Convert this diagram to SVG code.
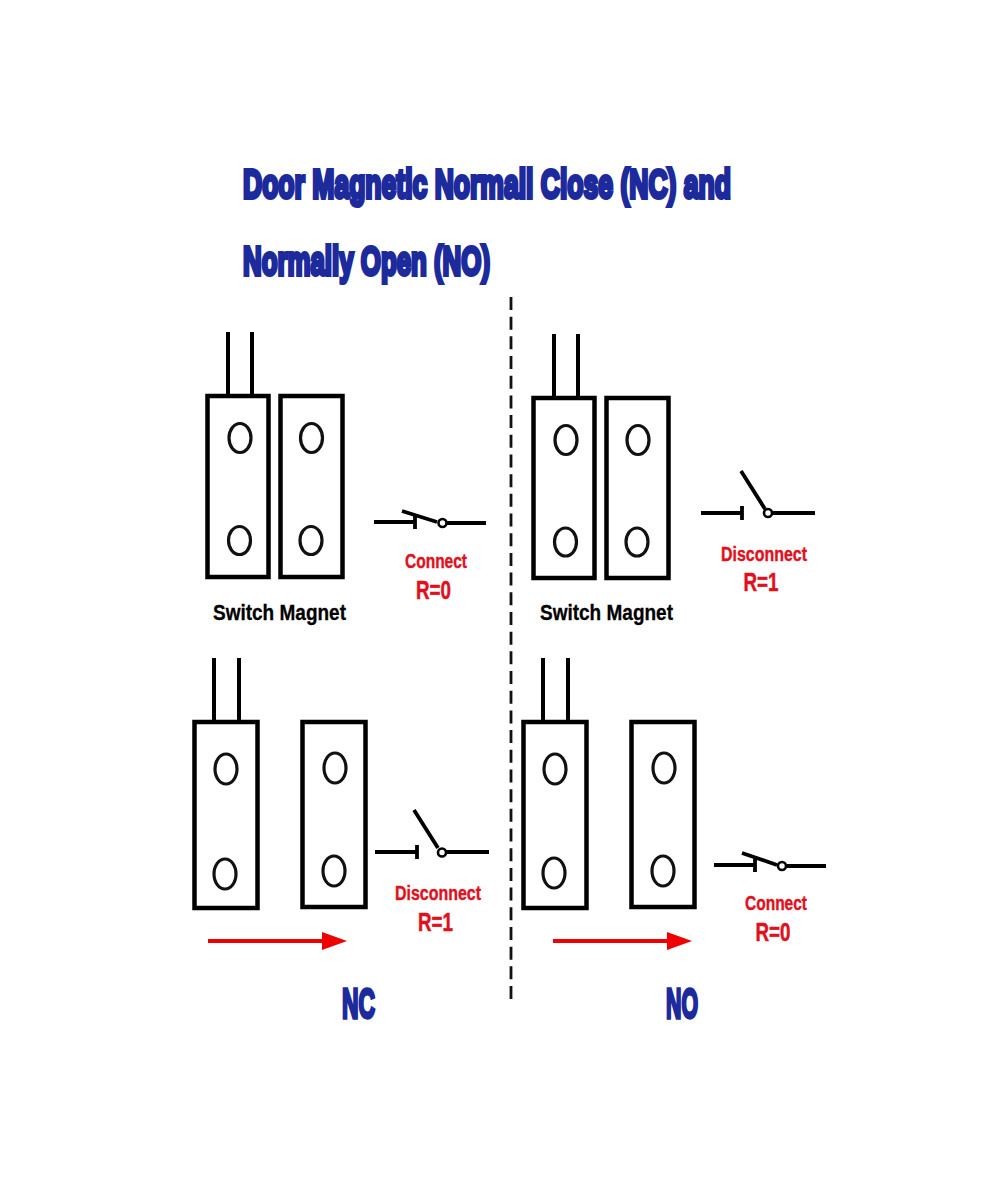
<svg xmlns="http://www.w3.org/2000/svg" width="1000" height="1177" viewBox="0 0 1000 1177">
<style>
.box{fill:none;stroke:#000;stroke-width:4.5}
.hole{fill:none;stroke:#111;stroke-width:3.2}
.wire{fill:none;stroke:#000;stroke-width:4}
.sw{fill:none;stroke:#000;stroke-width:3.8}
.pivot{fill:#fff;stroke:#000;stroke-width:2.6}
text{font-family:"Liberation Sans",Arial,sans-serif;font-weight:700}
.title{fill:#1c2a9c;stroke:#1c2a9c;stroke-width:2.4;font-size:25px}
.lab{fill:#000;stroke:#000;stroke-width:.3;font-size:22px}
.red1{fill:#e0101c;stroke:#e0101c;stroke-width:.4;font-size:20px;text-anchor:middle}
.red2{fill:#e0101c;stroke:#e0101c;stroke-width:.5;font-size:25px;text-anchor:middle}
.big{fill:#1c2a9c;stroke:#1c2a9c;stroke-width:1.6;font-size:21px}
.arrow{fill:none;stroke:#f00000;stroke-width:4}
</style>
<defs>
<marker id="ah" markerUnits="userSpaceOnUse" markerWidth="25" markerHeight="18" refX="13" refY="9" orient="auto"><polygon points="0,0 25,9 0,18" fill="#f00000"/></marker>
</defs>
<rect width="1000" height="1177" fill="#fff"/>
<g id="title">
<text class="title" transform="translate(243,198) scale(1,1.66)" textLength="488" lengthAdjust="spacingAndGlyphs">Door Magnetic Normall Close (NC) and</text>
<text class="title" transform="translate(243,274.500) scale(1,1.66)" textLength="247" lengthAdjust="spacingAndGlyphs">Normally Open (NO)</text>
</g>
<g id="connectors">
<path d="M511 297V999" fill="none" stroke="#111" stroke-width="2.8" stroke-dasharray="13 6.686"/>
<path id="arrow-nc" class="arrow" d="M208 941H335" marker-end="url(#ah)"/>
<path id="arrow-no" class="arrow" d="M553 941H680" marker-end="url(#ah)"/>
</g>
<g id="nc-closed-switch">
<path class="wire" d="M228 332V396M252 332V396"/>
<rect class="box" x="207.500" y="396" width="61" height="181"/>
<ellipse class="hole" cx="240" cy="438" rx="11" ry="14.500"/><ellipse class="hole" cx="239.500" cy="540.500" rx="11" ry="14"/>
</g>
<g id="nc-closed-magnet">
<rect class="box" x="280.500" y="396" width="62" height="181"/>
<ellipse class="hole" cx="311.500" cy="438" rx="11" ry="14.500"/><ellipse class="hole" cx="311" cy="540.500" rx="11" ry="14"/>
</g>
<g id="nc-closed-symbol">
<path class="sw" d="M374 522H415M415 515V529M402 511L437 522M447 523H486"/>
<circle class="pivot" cx="442.500" cy="523" r="4"/>
</g>
<text class="lab" x="213" y="620" textLength="133" lengthAdjust="spacingAndGlyphs">Switch Magnet</text>
<text class="red1" x="436" y="568" textLength="62" lengthAdjust="spacingAndGlyphs">Connect</text>
<text class="red2" x="433.500" y="599" textLength="35" lengthAdjust="spacingAndGlyphs">R=0</text>
<g id="no-open-switch">
<path class="wire" d="M554 334V398M578 334V398"/>
<rect class="box" x="533.500" y="398" width="61" height="180"/>
<ellipse class="hole" cx="566" cy="440" rx="11" ry="14.500"/><ellipse class="hole" cx="565.500" cy="542" rx="11" ry="14"/>
</g>
<g id="no-open-magnet">
<rect class="box" x="606.500" y="398" width="62" height="180"/>
<ellipse class="hole" cx="638" cy="440" rx="11" ry="14.500"/><ellipse class="hole" cx="637" cy="542" rx="11" ry="14"/>
</g>
<g id="no-open-symbol">
<path class="sw" d="M701 513H742M742 506V520M741 471L765 509M773 513H815"/>
<circle class="pivot" cx="768" cy="513" r="4"/>
</g>
<text class="lab" x="540" y="620" textLength="133" lengthAdjust="spacingAndGlyphs">Switch Magnet</text>
<text class="red1" x="764" y="561" textLength="86" lengthAdjust="spacingAndGlyphs">Disconnect</text>
<text class="red2" x="761" y="591" textLength="35" lengthAdjust="spacingAndGlyphs">R=1</text>
<g id="nc-apart-switch">
<path class="wire" d="M214 658V722M239 658V722"/>
<rect class="box" x="194.500" y="722" width="63" height="186"/>
<ellipse class="hole" cx="226" cy="769" rx="11" ry="15"/><ellipse class="hole" cx="225" cy="874" rx="11" ry="15"/>
</g>
<g id="nc-apart-magnet">
<rect class="box" x="302.500" y="722" width="63" height="185"/>
<ellipse class="hole" cx="335" cy="768" rx="11" ry="15"/><ellipse class="hole" cx="334" cy="871" rx="11" ry="15"/>
</g>
<g id="nc-apart-symbol">
<path class="sw" d="M375 852H417M417 845V859M414 810L438 848M446 852H489"/>
<circle class="pivot" cx="442" cy="852.500" r="4"/>
</g>
<text class="red1" x="438" y="900" textLength="86" lengthAdjust="spacingAndGlyphs">Disconnect</text>
<text class="red2" x="435.500" y="931" textLength="35" lengthAdjust="spacingAndGlyphs">R=1</text>
<g id="no-apart-switch">
<path class="wire" d="M543 658V722M568 658V722"/>
<rect class="box" x="523.500" y="722" width="63" height="186"/>
<ellipse class="hole" cx="555" cy="769" rx="11" ry="15"/><ellipse class="hole" cx="554" cy="873" rx="11" ry="15"/>
</g>
<g id="no-apart-magnet">
<rect class="box" x="631.500" y="722" width="63" height="185"/>
<ellipse class="hole" cx="664" cy="768" rx="11" ry="15"/><ellipse class="hole" cx="663" cy="871" rx="11" ry="15"/>
</g>
<g id="no-apart-symbol">
<path class="sw" d="M714 865H755M755 858V872M742 853L777 865M787 866H826"/>
<circle class="pivot" cx="782" cy="866" r="4"/>
</g>
<text class="red1" x="776" y="910" textLength="62" lengthAdjust="spacingAndGlyphs">Connect</text>
<text class="red2" x="773" y="941" textLength="35" lengthAdjust="spacingAndGlyphs">R=0</text>
<text class="big" transform="translate(342,1017.500) scale(1,2.05)" textLength="33" lengthAdjust="spacingAndGlyphs">NC</text>
<text class="big" transform="translate(666,1017.500) scale(1,2.05)" textLength="32" lengthAdjust="spacingAndGlyphs">NO</text>
</svg>
